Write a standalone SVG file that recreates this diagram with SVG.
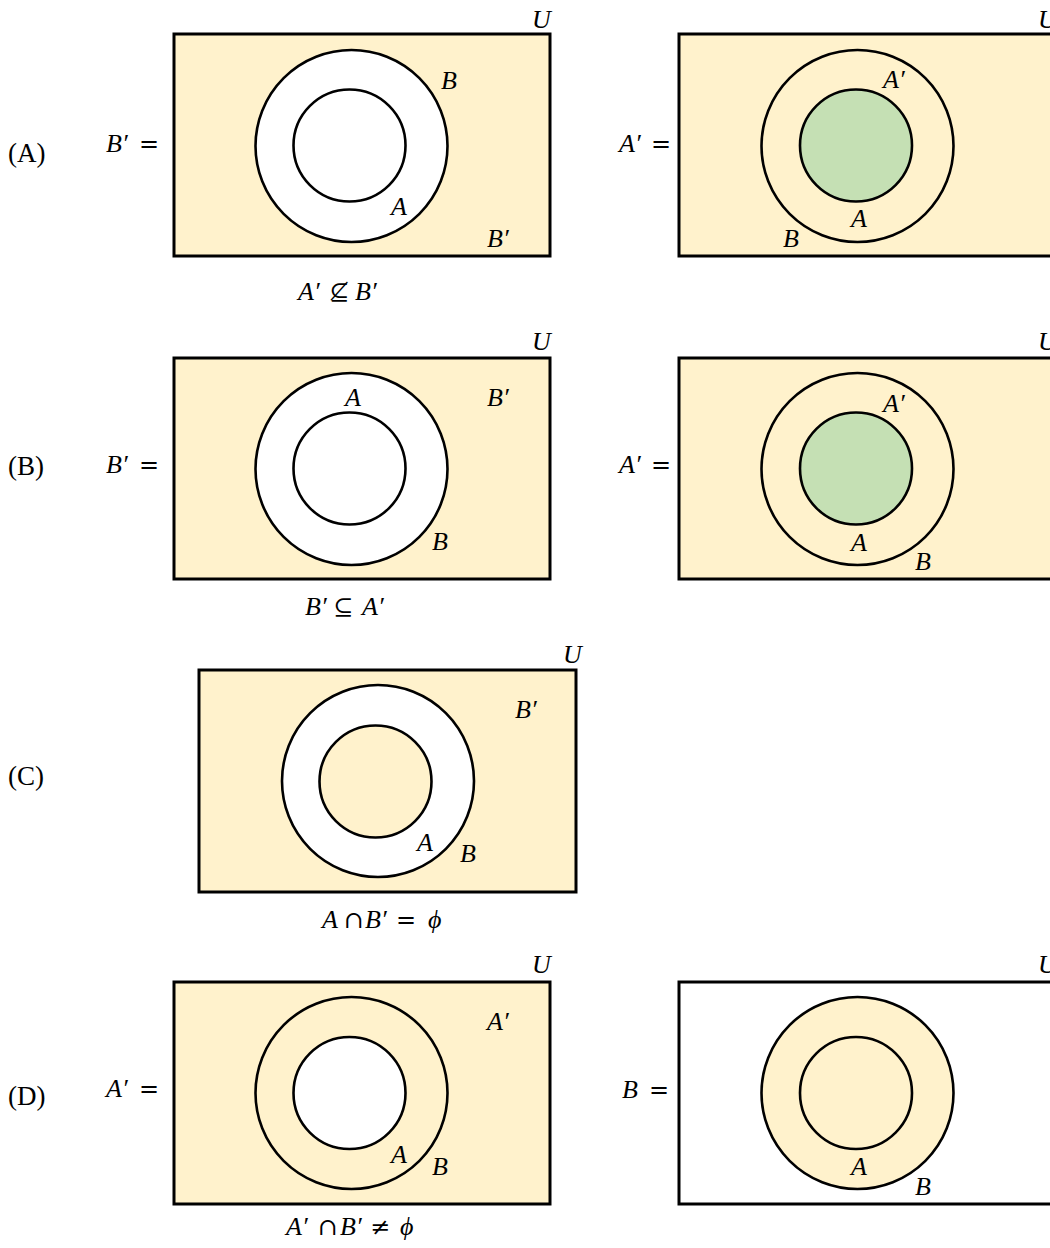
<svg xmlns="http://www.w3.org/2000/svg" width="1050" height="1248" viewBox="0 0 1050 1248">
<style>
.bg{fill:#ffffff}
.box{stroke:#000;stroke-width:3}
.c{stroke:#000;stroke-width:2.6}
.cream{fill:#FFF2CC}
.white{fill:#ffffff}
.green{fill:#C5E0B4}
.m{font-family:"Liberation Serif","DejaVu Serif",serif;font-style:italic;font-size:26px;fill:#000}
.op{font-family:"DejaVu Serif","Liberation Serif",serif;font-style:normal;font-size:24px}
.r{font-family:"Liberation Serif","DejaVu Serif",serif;font-size:27px;fill:#000}
</style>
<rect class="bg" x="0" y="0" width="1050" height="1248"/>
<g id="panel-A-left">
<rect class="box cream" x="174" y="34" width="376" height="222"/>
<circle class="c white" cx="351.5" cy="146" r="96"/>
<circle class="c white" cx="349.5" cy="145.5" r="56"/>
<text class="r" x="8" y="162">(A)</text>
<text class="m" x="106" y="152">B′<tspan class="op" x="139">=</tspan></text>
<text class="m" x="532" y="28">U</text>
<text class="m" x="441" y="89">B</text>
<text class="m" x="391" y="215">A</text>
<text class="m" x="487" y="247">B′</text>
<text class="m" x="298" y="300">A′<tspan class="op" x="329">⊈</tspan><tspan x="355">B′</tspan></text>
</g>
<g id="panel-A-right">
<rect class="box cream" x="679" y="34" width="376" height="222"/>
<circle class="c cream" cx="857.5" cy="146" r="96"/>
<circle class="c green" cx="856" cy="145.5" r="56"/>
<text class="m" x="619" y="152">A′<tspan class="op" x="651">=</tspan></text>
<text class="m" x="1038" y="28">U</text>
<text class="m" x="883" y="88">A′</text>
<text class="m" x="851" y="227">A</text>
<text class="m" x="783" y="247">B</text>
</g>
<g id="panel-B-left">
<rect class="box cream" x="174" y="358" width="376" height="221"/>
<circle class="c white" cx="351.5" cy="469" r="96"/>
<circle class="c white" cx="349.5" cy="468.5" r="56"/>
<text class="r" x="8" y="475">(B)</text>
<text class="m" x="106" y="473">B′<tspan class="op" x="139">=</tspan></text>
<text class="m" x="532" y="350">U</text>
<text class="m" x="345" y="406">A</text>
<text class="m" x="487" y="406">B′</text>
<text class="m" x="432" y="550">B</text>
<text class="m" x="305" y="615">B′<tspan class="op" x="333">⊆</tspan><tspan x="362">A′</tspan></text>
</g>
<g id="panel-B-right">
<rect class="box cream" x="679" y="358" width="376" height="221"/>
<circle class="c cream" cx="857.5" cy="469" r="96"/>
<circle class="c green" cx="856" cy="468.5" r="56"/>
<text class="m" x="619" y="473">A′<tspan class="op" x="651">=</tspan></text>
<text class="m" x="1038" y="350">U</text>
<text class="m" x="883" y="412">A′</text>
<text class="m" x="851" y="551">A</text>
<text class="m" x="915" y="570">B</text>
</g>
<g id="panel-C">
<rect class="box cream" x="199" y="670" width="377" height="222"/>
<circle class="c white" cx="378" cy="781" r="96"/>
<circle class="c cream" cx="375.5" cy="781.5" r="56"/>
<text class="r" x="8" y="785">(C)</text>
<text class="m" x="563" y="663">U</text>
<text class="m" x="515" y="718">B′</text>
<text class="m" x="417" y="851">A</text>
<text class="m" x="460" y="862">B</text>
<text class="m" x="322" y="928">A<tspan class="op" x="344">∩</tspan><tspan x="365">B′</tspan><tspan class="op" x="396">=</tspan><tspan x="428">ϕ</tspan></text>
</g>
<g id="panel-D-left">
<rect class="box cream" x="174" y="982" width="376" height="222"/>
<circle class="c cream" cx="351.5" cy="1093" r="96"/>
<circle class="c white" cx="349.5" cy="1093" r="56"/>
<text class="r" x="8" y="1105">(D)</text>
<text class="m" x="106" y="1097">A′<tspan class="op" x="139">=</tspan></text>
<text class="m" x="532" y="973">U</text>
<text class="m" x="487" y="1030">A′</text>
<text class="m" x="391" y="1163">A</text>
<text class="m" x="432" y="1175">B</text>
<text class="m" x="286" y="1235">A′<tspan class="op" x="318">∩</tspan><tspan x="340">B′</tspan><tspan class="op" x="370">≠</tspan><tspan x="400">ϕ</tspan></text>
</g>
<g id="panel-D-right">
<rect class="box white" x="679" y="982" width="376" height="222"/>
<circle class="c cream" cx="857.5" cy="1093" r="96"/>
<circle class="c cream" cx="856" cy="1093" r="56"/>
<text class="m" x="622" y="1098">B<tspan class="op" x="649">=</tspan></text>
<text class="m" x="1038" y="973">U</text>
<text class="m" x="851" y="1175">A</text>
<text class="m" x="915" y="1195">B</text>
</g>
<g id="connectors"/>
</svg>
